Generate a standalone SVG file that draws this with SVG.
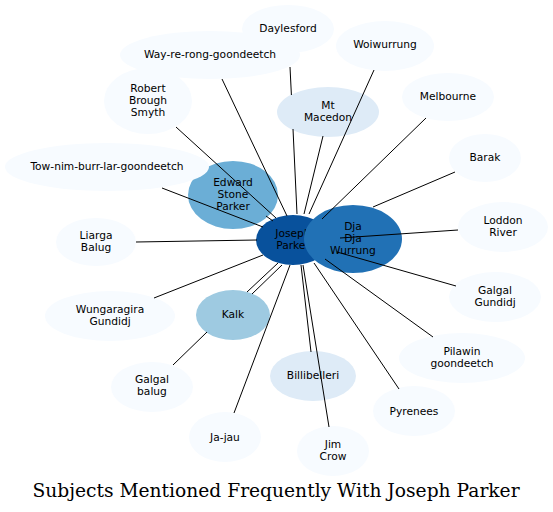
<svg xmlns="http://www.w3.org/2000/svg" width="553" height="512" viewBox="0 0 553 512">
<style>
text{font-family:"DejaVu Sans","Liberation Sans",sans-serif;font-size:10.67px;text-anchor:middle;fill:#000}
.t{font-family:"DejaVu Serif","Liberation Serif",serif;font-size:18.67px}
.c1{fill:#f7fbff}.c2{fill:#deebf7}.c4{fill:#9ecae1}.c5{fill:#6baed6}.c7{fill:#2171b5}.c8{fill:#08519c}
#edges line{stroke:#000;stroke-width:1}
</style>
<rect width="553" height="512" fill="#fff"/>
<g id="nodes">
<g id="daylesford"><ellipse class="c1" cx="288" cy="29" rx="46" ry="24"/><text x="288" y="32">Daylesford</text></g>
<g id="way-re-rong"><ellipse class="c1" cx="210" cy="55" rx="90" ry="24"/><text x="210" y="58">Way-re-rong-goondeetch</text></g>
<g id="woiwurrung"><ellipse class="c1" cx="385" cy="46" rx="49" ry="25"/><text x="385" y="48">Woiwurrung</text></g>
<g id="mt-macedon"><ellipse class="c2" cx="328" cy="112" rx="51" ry="25"/><text x="328" y="108.5">Mt</text><text x="328" y="121">Macedon</text></g>
<g id="melbourne"><ellipse class="c1" cx="448" cy="97" rx="46" ry="24"/><text x="448" y="100">Melbourne</text></g>
<g id="barak"><ellipse class="c1" cx="485" cy="158" rx="36" ry="24"/><text x="485" y="161">Barak</text></g>
<g id="loddon"><ellipse class="c1" cx="503" cy="227" rx="45" ry="25"/><text x="503" y="224">Loddon</text><text x="503" y="236">River</text></g>
<g id="robert"><ellipse class="c1" cx="148" cy="101" rx="44" ry="33"/><text x="148" y="92">Robert</text><text x="148" y="104">Brough</text><text x="148" y="116">Smyth</text></g>
<g id="edward"><ellipse class="c5" cx="233" cy="195" rx="45" ry="34"/><text x="233" y="186">Edward</text><text x="233" y="198">Stone</text><text x="233" y="210">Parker</text></g>
<g id="tow-nim"><ellipse class="c1" cx="107" cy="167" rx="102" ry="24"/><text x="107" y="170">Tow-nim-burr-lar-goondeetch</text></g>
<g id="liarga"><ellipse class="c1" cx="96" cy="242" rx="40" ry="24"/><text x="96" y="239">Liarga</text><text x="96" y="251">Balug</text></g>
<g id="joseph"><ellipse class="c8" cx="293" cy="240" rx="37" ry="25"/><text x="293" y="237">Joseph</text><text x="293" y="249">Parker</text></g>
<g id="dja"><ellipse class="c7" cx="353" cy="239" rx="49" ry="34"/><text x="353" y="230">Dja</text><text x="353" y="242">Dja</text><text x="353" y="254">Wurrung</text></g>
<g id="wungaragira"><ellipse class="c1" cx="110" cy="316" rx="65" ry="25"/><text x="110" y="313">Wungaragira</text><text x="110" y="325">Gundidj</text></g>
<g id="kalk"><ellipse class="c4" cx="233" cy="315" rx="37" ry="25"/><text x="233" y="318">Kalk</text></g>
<g id="galgal-balug"><ellipse class="c1" cx="152" cy="387" rx="41" ry="25"/><text x="152" y="383">Galgal</text><text x="152" y="395">balug</text></g>
<g id="ja-jau"><ellipse class="c1" cx="225" cy="437" rx="36" ry="25"/><text x="225" y="441">Ja-jau</text></g>
<g id="billibelleri"><ellipse class="c2" cx="313" cy="376" rx="43" ry="25"/><text x="313" y="379">Billibelleri</text></g>
<g id="jim-crow"><ellipse class="c1" cx="333" cy="451" rx="36" ry="25"/><text x="333" y="448">Jim</text><text x="333" y="460">Crow</text></g>
<g id="pyrenees"><ellipse class="c1" cx="414" cy="411" rx="41" ry="25"/><text x="414" y="415">Pyrenees</text></g>
<g id="pilawin"><ellipse class="c1" cx="462" cy="358" rx="63" ry="25"/><text x="462" y="355">Pilawin</text><text x="462" y="367">goondeetch</text></g>
<g id="galgal-gundidj"><ellipse class="c1" cx="495" cy="297" rx="46" ry="25"/><text x="495" y="294">Galgal</text><text x="495" y="306">Gundidj</text></g>
</g>
<g id="edges">
<line x1="290" y1="67" x2="291.4" y2="95"/>
<line x1="293" y1="129" x2="297" y2="214"/>
<line x1="222" y1="79" x2="287" y2="216"/>
<line x1="176" y1="127" x2="276" y2="218"/>
<line x1="266" y1="216" x2="273" y2="221"/>
<line x1="162" y1="188" x2="263" y2="227"/>
<line x1="136" y1="242" x2="257" y2="240"/>
<line x1="154" y1="298" x2="263" y2="255"/>
<line x1="247" y1="292" x2="278" y2="263"/>
<line x1="252" y1="294" x2="282" y2="265"/>
<line x1="173" y1="365" x2="207" y2="332"/>
<line x1="234" y1="413" x2="290" y2="265"/>
<line x1="301" y1="265" x2="311" y2="352"/>
<line x1="303" y1="265" x2="329" y2="427"/>
<line x1="314" y1="263" x2="399" y2="389"/>
<line x1="325" y1="259" x2="433" y2="337"/>
<line x1="337" y1="252" x2="456" y2="286"/>
<line x1="340" y1="238" x2="458" y2="230"/>
<line x1="373" y1="207" x2="455" y2="172"/>
<line x1="322" y1="219" x2="426" y2="118"/>
<line x1="374" y1="70" x2="309" y2="214"/>
<line x1="323" y1="136" x2="304" y2="214"/>
</g>
<text class="t" x="276" y="497">Subjects Mentioned Frequently With Joseph Parker</text>
</svg>
